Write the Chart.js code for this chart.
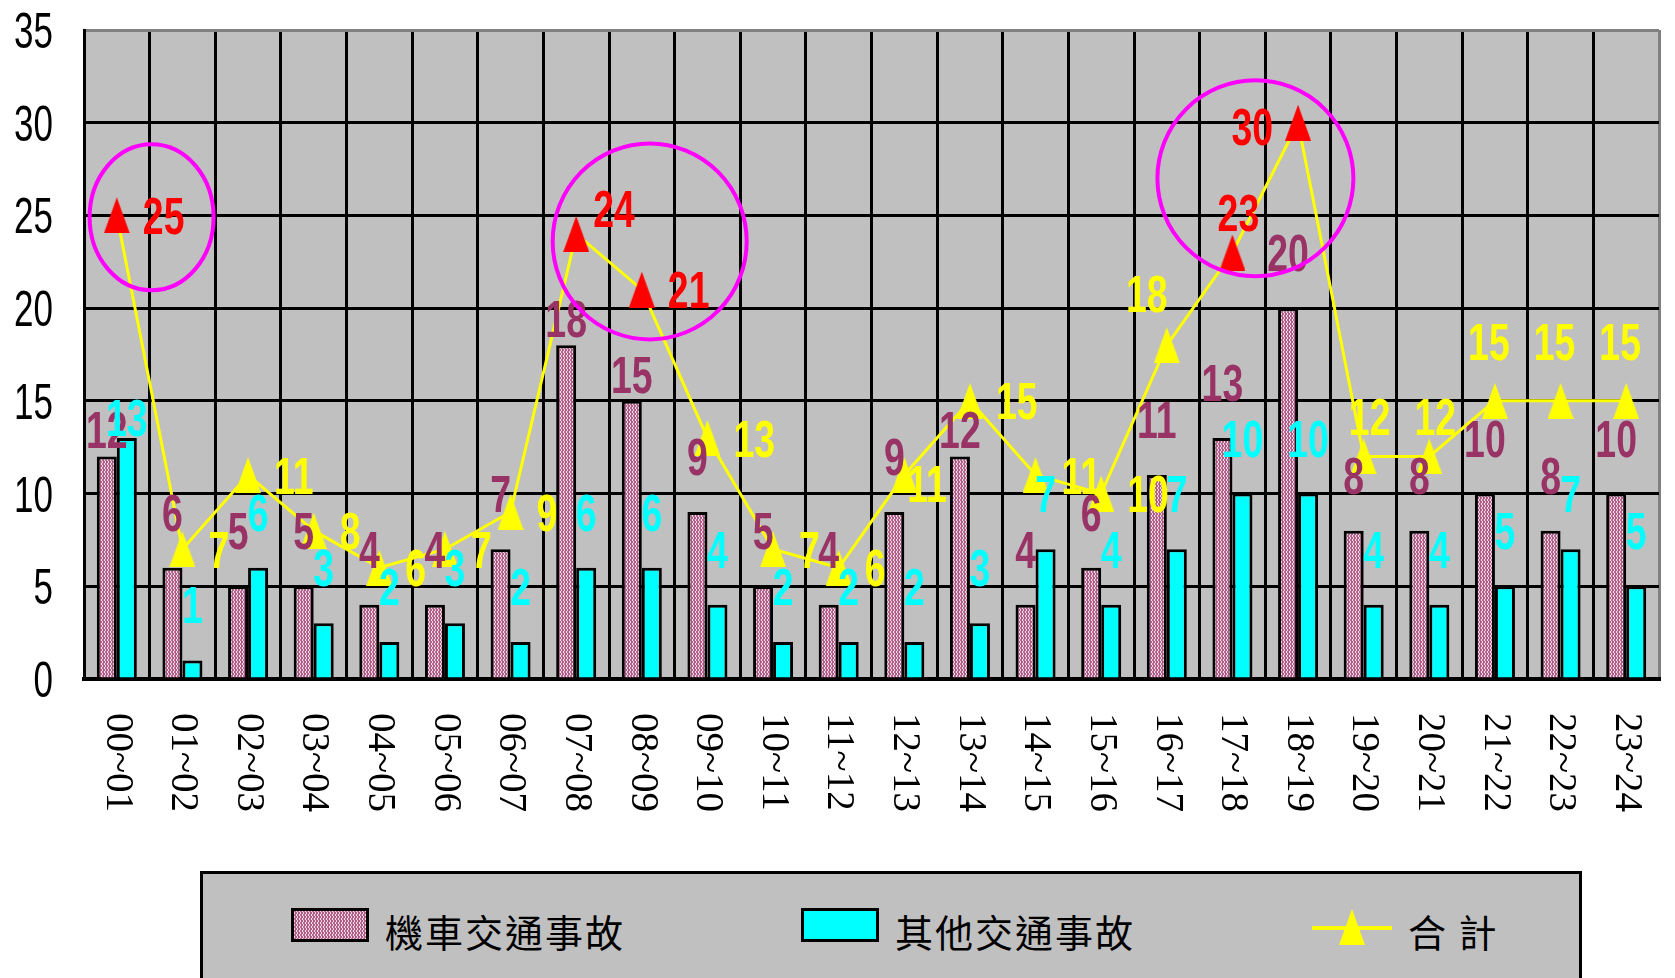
<!DOCTYPE html>
<html>
<head>
<meta charset="utf-8">
<title>各時段交通事故件數</title>
<script src="https://cdn.jsdelivr.net/npm/chart.js@4.4.1/dist/chart.umd.min.js"></script>
<style>
    body { margin: 0; background: #fff; overflow: hidden; }
    #wrap { position: relative; width: 1675px; height: 978px; }
    #legend-box { position: absolute; left: 200px; top: 871px; width: 1382px; height: 150px; box-sizing: border-box; border: 3px solid #000; background: #c0c0c0; }
    .swatch { position: absolute; top: 908px; width: 78px; height: 34px; box-sizing: border-box; border: 3px solid #000; }
    .legend-text { position: absolute; top: 909px; height: 44px; line-height: 44px; font-family: "Noto Sans CJK TC", sans-serif; font-size: 38px; letter-spacing: 2px; color: #000; white-space: pre; }
    #line-mark { position: absolute; left: 1312px; top: 926px; width: 80px; height: 4px; background: #ffff00; }
    #tri-mark { position: absolute; left: 1339px; top: 909px; }
</style>
</head>
<body>
<div id="wrap">
    <canvas id="chart" width="1675" height="978"></canvas>
    <div id="legend-box"></div>
    <div class="swatch" id="moto-swatch" style="left: 291px;"></div>
    <div class="legend-text" style="left: 385px;">機車交通事故</div>
    <div class="swatch" style="left: 801px; background: #00ffff;"></div>
    <div class="legend-text" style="left: 895px;">其他交通事故</div>
    <div id="line-mark"></div>
    <canvas id="tri-mark" width="26" height="36"></canvas>
    <div class="legend-text" style="left: 1408px;">合 計</div>
</div>
<script>
// hourly counts
const hourLabels = ["00~01", "01~02", "02~03", "03~04", "04~05", "05~06", "06~07", "07~08", "08~09", "09~10", "10~11", "11~12",
    "12~13", "13~14", "14~15", "15~16", "16~17", "17~18", "18~19", "19~20", "20~21", "21~22", "22~23", "23~24"];
const motoCounts = [12, 6, 5, 5, 4, 4, 7, 18, 15, 9, 5, 4, 9, 12, 4, 6, 11, 13, 20, 8, 8, 10, 8, 10];
const otherCounts = [13, 1, 6, 3, 2, 3, 2, 6, 6, 4, 2, 2, 2, 3, 7, 4, 7, 10, 10, 4, 4, 5, 7, 5];
const totalCounts = [25, 7, 11, 8, 6, 7, 9, 24, 21, 13, 7, 6, 11, 15, 11, 10, 18, 23, 30, 12, 12, 15, 15, 15];
const peakHours = [0, 7, 8, 17, 18];
const yMax = 35;
const yStep = 5;

// label placement for the 合計 numbers, and bars whose numbers sit close to the top
const totalSpots = ["right", "right", "right", "right", "right", "right", "right", "upRight", "right", "right", "right", "right",
    "over", "right", "right", "right", "upLeft", "up", "left", "up", "up", "high", "high", "high"];
const motoNear = [0, 7, 8, 13];
const otherNear = [0];

// highlight rings (category index, value) with pixel radii
const rings = [
    { x: 0.53, y: 24.9, rx: 62, ry: 73 },
    { x: 8.12, y: 23.6, rx: 97, ry: 98 },
    { x: 17.35, y: 27.0, rx: 98, ry: 98 },
];

const maroon = "#993366";
const cyan = "#00ffff";
const yellow = "#ffff00";
const red = "#ff0000";
const sans = '"Liberation Sans", Arial, sans-serif';

const makePattern = () => {
    const c = document.createElement("canvas");
    c.width = 6;
    c.height = 4;
    const g = c.getContext("2d");
    g.fillStyle = "#f6e4ee";
    g.fillRect(0, 0, 6, 4);
    g.strokeStyle = maroon;
    g.lineWidth = 1.1;
    g.beginPath();
    g.moveTo(0.5, 0); g.lineTo(2.5, 2); g.lineTo(0.5, 4);
    g.moveTo(3.5, 0); g.lineTo(5.5, 2); g.lineTo(3.5, 4);
    g.stroke();
    return c;
};

const drawTriangle = (c, color) => {
    const g = c.getContext("2d");
    g.fillStyle = color;
    g.beginPath();
    g.moveTo(13, 0);
    g.lineTo(26, 36);
    g.lineTo(0, 36);
    g.closePath();
    g.fill();
    return c;
};

const makeTriangle = (color) => {
    const c = document.createElement("canvas");
    c.width = 26;
    c.height = 36;
    return drawTriangle(c, color);
};

const patternCanvas = makePattern();
const yellowTri = makeTriangle(yellow);
const redTri = makeTriangle(red);
drawTriangle(document.getElementById("tri-mark"), yellow);
document.getElementById("moto-swatch").style.background = `url(${patternCanvas.toDataURL()})`;

// condensed digits: Arial-like glyphs squeezed sideways
const drawNumber = (ctx, text, x, baseline, align, color, font, squeeze) => {
    ctx.save();
    ctx.translate(x, baseline);
    ctx.scale(squeeze, 1);
    ctx.font = font;
    ctx.fillStyle = color;
    ctx.textAlign = align;
    ctx.textBaseline = "alphabetic";
    ctx.fillText(text, 0, 0);
    ctx.restore();
};

const labelFont = `bold 52px ${sans}`;

const spotOffsets = {
    right: [26, 0, "left"],
    upRight: [17, -26, "left"],
    over: [3, 8, "left"],
    upLeft: [-20, -52, "center"],
    up: [6, -40, "center"],
    left: [-25, 4, "right"],
    high: [-6, -59, "center"],
};

const plotBackground = {
    id: "plotBackground",
    beforeDraw: (chart) => {
        const { ctx, chartArea } = chart;
        ctx.save();
        ctx.fillStyle = "#c0c0c0";
        ctx.fillRect(chartArea.left, chartArea.top, chartArea.right - chartArea.left, chartArea.bottom - chartArea.top);
        ctx.restore();
    },
};

const valueLabels = {
    id: "valueLabels",
    afterDatasetsDraw: (chart) => {
        const ctx = chart.ctx;
        const half = 0.716 * 52 / 2;
        chart.getDatasetMeta(0).data.forEach((bar, i) => {
            const gap = motoNear.includes(i) ? 8 : 37;
            drawNumber(ctx, String(motoCounts[i]), bar.x, bar.y - gap, "center", maroon, labelFont, 0.72);
        });
        chart.getDatasetMeta(1).data.forEach((bar, i) => {
            const gap = otherNear.includes(i) ? 2 : 37;
            drawNumber(ctx, String(otherCounts[i]), bar.x, bar.y - gap, "center", cyan, labelFont, 0.72);
        });
        chart.getDatasetMeta(2).data.forEach((pt, i) => {
            const [dx, dy, align] = spotOffsets[totalSpots[i]];
            const color = peakHours.includes(i) ? red : yellow;
            drawNumber(ctx, String(totalCounts[i]), pt.x + dx, pt.y + dy + half, align, color, labelFont, 0.72);
        });

        const xScale = chart.scales.x;
        const yScale = chart.scales.y;
        ctx.save();
        ctx.strokeStyle = "#ff00ff";
        ctx.lineWidth = 4;
        rings.forEach((r) => {
            ctx.beginPath();
            ctx.ellipse(xScale.getPixelForValue(r.x), yScale.getPixelForValue(r.y), r.rx, r.ry, 0, 0, Math.PI * 2);
            ctx.stroke();
        });
        ctx.restore();
    },
};

const axisText = {
    id: "axisText",
    afterDraw: (chart) => {
        const ctx = chart.ctx;
        const xScale = chart.scales.x;
        const yScale = chart.scales.y;
        hourLabels.forEach((label, i) => {
            ctx.save();
            ctx.translate(xScale.getPixelForValue(i), chart.chartArea.bottom + 34);
            ctx.rotate(Math.PI / 2);
            ctx.font = '39px "Liberation Serif", serif';
            ctx.fillStyle = "#000";
            ctx.textAlign = "left";
            ctx.textBaseline = "middle";
            ctx.fillText(label, 0, 0);
            ctx.restore();
        });
        yScale.ticks.forEach((t) => {
            const y = yScale.getPixelForValue(t.value);
            drawNumber(ctx, String(t.value), chart.chartArea.left - 31, y + 18, "right", "#000", `50px ${sans}`, 0.7);
        });
    },
};

new Chart(document.getElementById("chart").getContext("2d"), {
    type: "bar",
    data: {
        labels: hourLabels,
        datasets: [
            {
                label: "機車交通事故",
                data: motoCounts,
                backgroundColor: document.getElementById("chart").getContext("2d").createPattern(patternCanvas, "repeat"),
                borderColor: "#000",
                borderWidth: 3,
                categoryPercentage: 0.61,
                barPercentage: 1,
                order: 1,
            },
            {
                label: "其他交通事故",
                data: otherCounts,
                backgroundColor: cyan,
                borderColor: "#000",
                borderWidth: 3,
                categoryPercentage: 0.61,
                barPercentage: 1,
                order: 1,
            },
            {
                type: "line",
                label: "合 計",
                data: totalCounts,
                borderColor: yellow,
                borderWidth: 3,
                tension: 0,
                pointStyle: (c) => (peakHours.includes(c.dataIndex) ? redTri : yellowTri),
                pointRadius: 13,
                order: 0,
            },
        ],
    },
    options: {
        responsive: false,
        animation: false,
        devicePixelRatio: 1,
        layout: { padding: { top: 30, right: 10, left: 0, bottom: 0 } },
        plugins: { legend: { display: false }, tooltip: { enabled: false } },
        scales: {
            x: {
                offset: true,
                grid: {
                    offset: true,
                    color: (c) => (c.type === "tick" ? "#000" : "#808080"),
                    lineWidth: 3,
                    drawTicks: false,
                },
                border: { color: "#000", width: 4 },
                ticks: { display: false },
                afterFit: (s) => { s.height = 299; },
            },
            y: {
                min: 0,
                max: yMax,
                ticks: { stepSize: yStep, display: false },
                grid: {
                    color: (c) => (c.tick && c.tick.value === yMax ? "#808080" : "#000"),
                    lineWidth: 3,
                    drawTicks: false,
                },
                border: { color: "#000", width: 3 },
                afterFit: (s) => { s.width = 84; },
            },
        },
    },
    plugins: [plotBackground, valueLabels, axisText],
});
</script>
</body>
</html>
